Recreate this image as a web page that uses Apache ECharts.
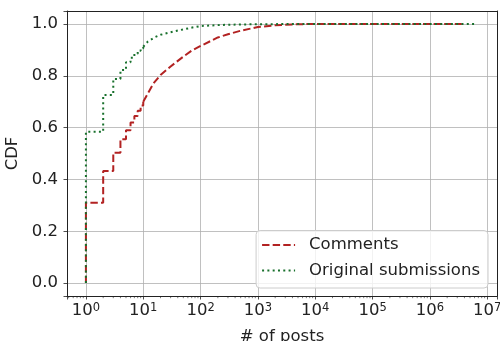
<!DOCTYPE html>
<html>
<head>
<meta charset="utf-8">
<script src="https://cdn.jsdelivr.net/npm/echarts@6/dist/echarts.min.js"></script>
<style>
  html, body { margin: 0; padding: 0; background: #fff; }
  #chart { width: 500px; height: 341px; }
</style>
</head>
<body>
<div id="chart"></div>
<script>
// step part of each CDF (integer post counts 1..10)
const commentsStepPosts = [1, 1, 2, 3, 4, 5, 6, 7, 8, 9, 10];
const commentsStepCdf = [0, 0.31, 0.432, 0.503, 0.555, 0.59, 0.62, 0.645, 0.665, 0.685, 0.70];
const submissionsStepPosts = [1, 1, 2, 3, 4, 5, 6, 7, 8, 9, 10];
const submissionsStepCdf = [0, 0.584, 0.726, 0.788, 0.822, 0.852, 0.87, 0.885, 0.897, 0.906, 0.912];

// tail of each CDF, where the steps get too small to see
const commentsTailPosts = [10, 15, 20, 30, 50, 70, 100, 200, 300, 500, 1000, 2000, 5000, 1e4, 1e5, 1e6, 3.6e6];
const commentsTailCdf = [0.70, 0.77, 0.803, 0.836, 0.874, 0.897, 0.915, 0.948, 0.96, 0.974, 0.988, 0.995, 0.999, 1, 1, 1, 1];
const submissionsTailPosts = [10, 12, 16, 20, 30, 45, 75, 100, 220, 500, 1000, 1e4, 1e5, 1e6, 6.3e6];
const submissionsTailCdf = [0.912, 0.932, 0.949, 0.958, 0.968, 0.977, 0.987, 0.992, 0.996, 0.998, 0.999, 1, 1, 1, 1];

const xTickExponents = ['0', '1', '2', '3', '4', '5', '6', '7'];
const yTickLabels = ['0.0', '0.2', '0.4', '0.6', '0.8', '1.0'];
const minorMultipliers = [2, 3, 4, 5, 6, 7, 8, 9];
const minorDecades = [-1, 0, 1, 2, 3, 4, 5, 6, 7];

const X_MIN = Math.pow(10, -0.33);
const X_MAX = Math.pow(10, 7.17);
const Y_MIN = -0.05;
const Y_MAX = 1.05;

const RED = '#b22222';
const GREEN = '#18702c';
const FONT = 'DejaVu Sans';
const FS = 16.5;

const pairs = (xs, ys) => xs.map((x, i) => [x, ys[i]]);

const minorTicks = [];
minorDecades.forEach(d => minorMultipliers.forEach(m => {
  const v = m * Math.pow(10, d);
  if (v > X_MIN && v < X_MAX) minorTicks.push([v, Y_MIN]);
}));

const chart = echarts.init(document.getElementById('chart'), null, { renderer: 'canvas' });

const redLine = { color: RED, width: 2, type: [7.4, 3.2] };
const greenLine = { color: GREEN, width: 2, type: [2, 3.3] };

const option = {
  animation: false,
  textStyle: { fontFamily: FONT },
  grid: { left: 67, right: 3, top: 11, bottom: 45, outerBoundsMode: 'none', containLabel: false },
  legend: {
    orient: 'vertical',
    right: 12,
    bottom: 53,
    data: ['Comments', 'Original submissions'],
    itemWidth: 33,
    itemHeight: 14,
    itemGap: 8.5,
    padding: [6, 8, 9, 5],
    backgroundColor: 'rgba(255,255,255,0.8)',
    borderColor: '#cccccc',
    borderWidth: 1,
    borderRadius: 4,
    itemStyle: { opacity: 0 },
    textStyle: { fontFamily: FONT, fontSize: FS, lineHeight: 16, color: '#222', padding: [0, 0, 0, 9] }
  },
  xAxis: [
    {
      type: 'log',
      min: X_MIN,
      max: X_MAX,
      name: '# of posts',
      nameLocation: 'middle',
      nameGap: 29,
      nameTextStyle: { fontFamily: FONT, fontSize: FS, color: '#222' },
      axisLine: { show: true, onZero: false, lineStyle: { color: '#222', width: 1 } },
      axisTick: { show: true, length: 3.5, lineStyle: { color: '#222', width: 0.8 } },
      axisLabel: {
        margin: 6,
        color: '#222',
        formatter: v => {
          const e = Math.log10(v);
          const k = Math.round(e);
          return Math.abs(e - k) < 1e-6 && xTickExponents[k] !== undefined
            ? '{b|10}{s|' + xTickExponents[k] + '}' : '';
        },
        rich: {
          b: { fontFamily: FONT, fontSize: FS, lineHeight: 17, color: '#222' },
          s: { fontFamily: FONT, fontSize: 11.5, lineHeight: 12, verticalAlign: 'top', padding: [0, 0, 9, 0], color: '#222' }
        }
      },
      splitLine: { show: true, lineStyle: { color: '#b0b0b0', width: 0.8 } },
      minorTick: { show: false }
    },
    {
      type: 'value', position: 'top', min: 0, max: 1, z: 5,
      axisLine: { show: true, onZero: false, lineStyle: { color: '#222', width: 1 } },
      axisTick: { show: false }, axisLabel: { show: false }, splitLine: { show: false }
    }
  ],
  yAxis: [
    {
      type: 'value',
      min: Y_MIN,
      max: Y_MAX,
      minInterval: 0.2,
      maxInterval: 0.2,
      name: 'CDF',
      nameLocation: 'middle',
      nameGap: 40,
      nameTextStyle: { fontFamily: FONT, fontSize: FS, color: '#222' },
      axisLine: { show: true, onZero: false, lineStyle: { color: '#222', width: 1 } },
      axisTick: { show: true, length: 3.5, lineStyle: { color: '#222', width: 0.8 } },
      axisLabel: {
        margin: 9,
        fontFamily: FONT,
        fontSize: FS,
        color: '#222',
        formatter: v => {
          const k = Math.round(v / 0.2);
          return Math.abs(v - k * 0.2) < 1e-6 && yTickLabels[k] !== undefined ? yTickLabels[k] : '';
        }
      },
      splitLine: { show: true, lineStyle: { color: '#b0b0b0', width: 0.8 } }
    },
    {
      type: 'value', position: 'right', min: 0, max: 1, z: 5,
      axisLine: { show: true, onZero: false, lineStyle: { color: '#222', width: 1 } },
      axisTick: { show: false }, axisLabel: { show: false }, splitLine: { show: false }
    }
  ],
  series: [
    {
      name: 'Comments', type: 'line', step: 'end', showSymbol: false, symbol: 'none',
      data: pairs(commentsStepPosts, commentsStepCdf), lineStyle: redLine, itemStyle: { color: RED }, z: 3
    },
    {
      name: 'Comments', type: 'line', showSymbol: false, symbol: 'none',
      data: pairs(commentsTailPosts, commentsTailCdf), lineStyle: redLine, itemStyle: { color: RED }, z: 3
    },
    {
      name: 'Original submissions', type: 'line', step: 'end', showSymbol: false, symbol: 'none',
      data: pairs(submissionsStepPosts, submissionsStepCdf), lineStyle: greenLine, itemStyle: { color: GREEN }, z: 4
    },
    {
      name: 'Original submissions', type: 'line', showSymbol: false, symbol: 'none',
      data: pairs(submissionsTailPosts, submissionsTailCdf), lineStyle: greenLine, itemStyle: { color: GREEN }, z: 4
    },
    {
      type: 'custom',
      silent: true,
      clip: false,
      data: minorTicks,
      renderItem: (params, api) => {
        const p = api.coord([api.value(0), api.value(1)]);
        return {
          type: 'line',
          shape: { x1: p[0], y1: p[1], x2: p[0], y2: p[1] + 2.2 },
          style: { stroke: '#222', lineWidth: 0.6 }
        };
      }
    }
  ]
};

chart.setOption(option);
window.addEventListener('resize', () => chart.resize());
</script>
</body>
</html>
